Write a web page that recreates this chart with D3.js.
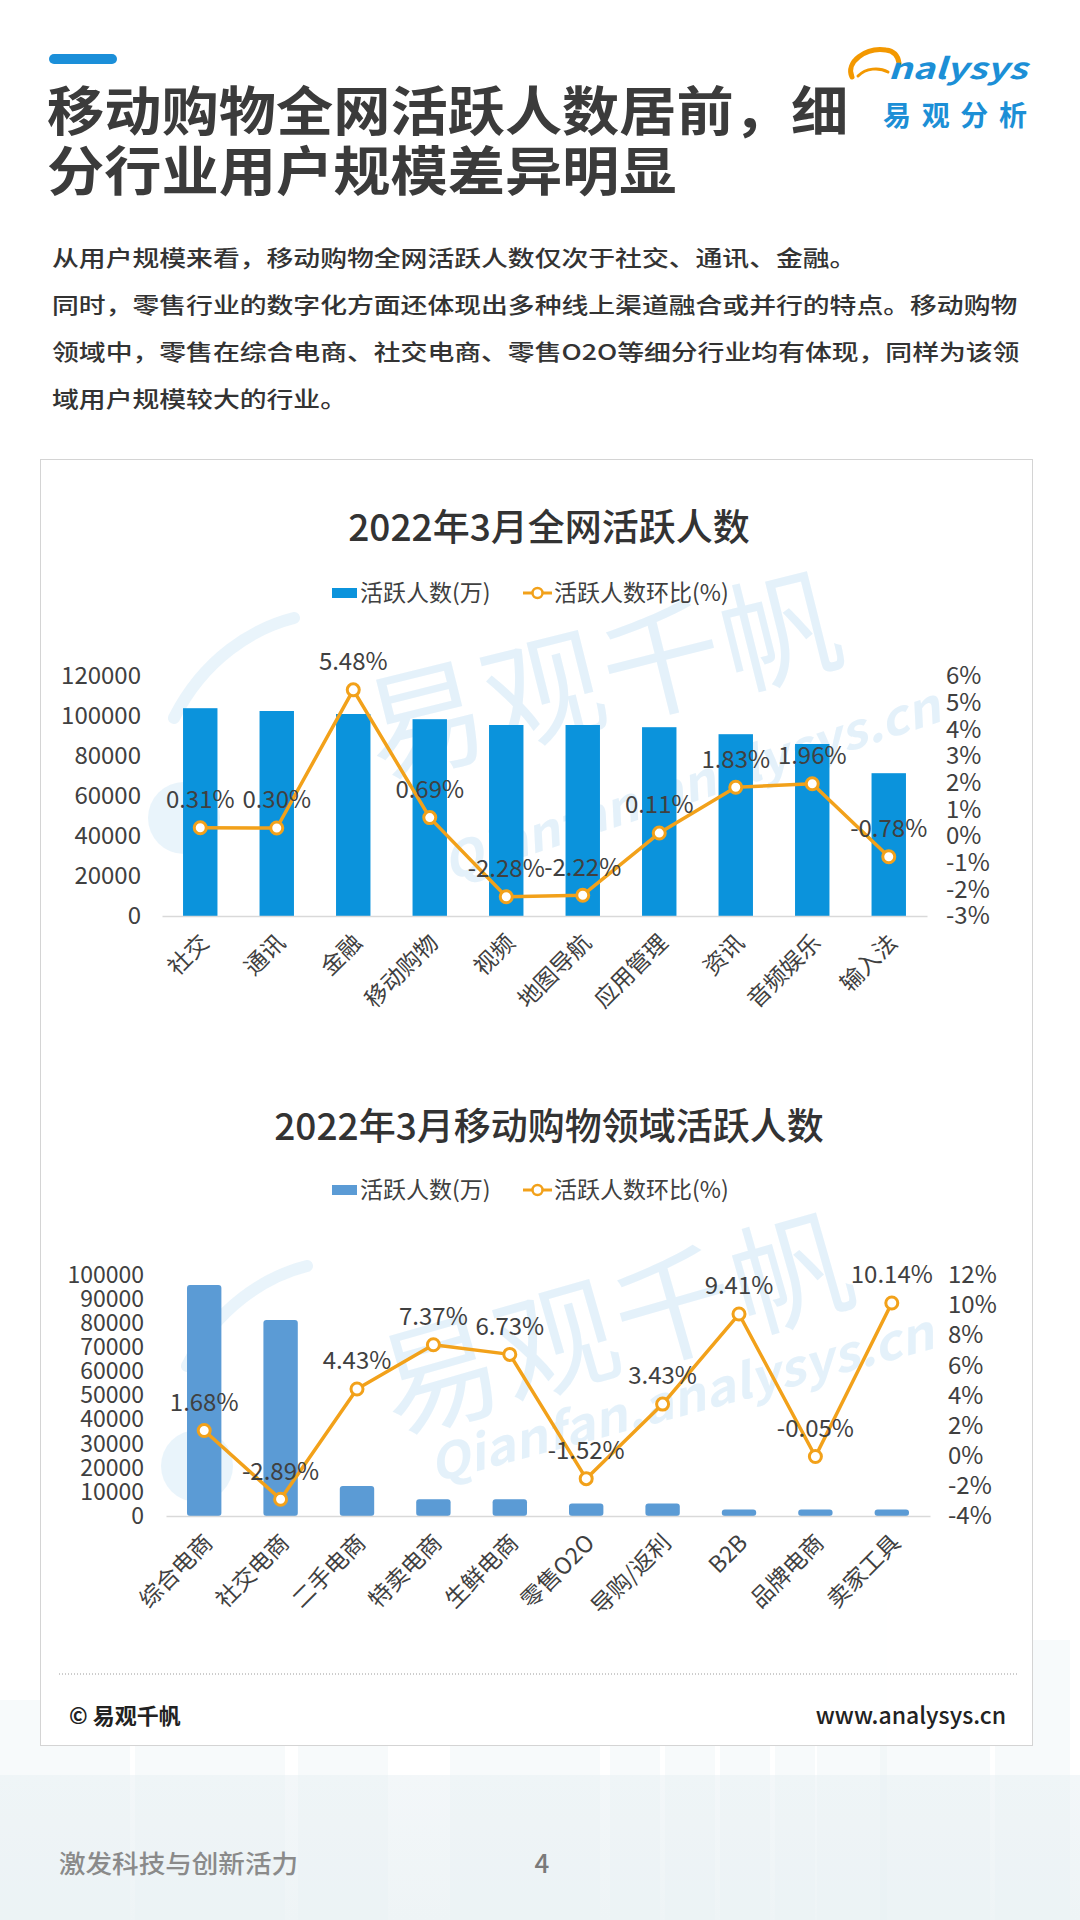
<!DOCTYPE html>
<html><head><meta charset="utf-8">
<script src="https://cdn.jsdelivr.net/npm/d3@7"></script>
<style>
html,body{margin:0;padding:0;background:#fff}
svg{display:block}
text{font-family:"Noto Sans CJK SC","Noto Sans",sans-serif}
</style>
</head><body>
<svg id="page" width="1080" height="1920"></svg>
<script>
// ---------- data ----------
const titleLines = ["移动购物全网活跃人数居前，细", "分行业用户规模差异明显"];
const paragraphLines = [
  "从用户规模来看，移动购物全网活跃人数仅次于社交、通讯、金融。",
  "同时，零售行业的数字化方面还体现出多种线上渠道融合或并行的特点。移动购物",
  "领域中，零售在综合电商、社交电商、零售O2O等细分行业均有体现，同样为该领",
  "域用户规模较大的行业。"
];
const legendLabels = ["活跃人数(万)", "活跃人数环比(%)"];

const chart1Title = "2022年3月全网活跃人数";
const chart1Categories = ["社交","通讯","金融","移动购物","视频","地图导航","应用管理","资讯","音频娱乐","输入法"];
const chart1Users = [103900, 102500, 101000, 98400, 95500, 95500, 94400, 90900, 86000, 71400];
const chart1Growth = [0.31, 0.30, 5.48, 0.69, -2.28, -2.22, 0.11, 1.83, 1.96, -0.78];
const chart1LeftTicks = [0, 20000, 40000, 60000, 80000, 100000, 120000];
const chart1RightTicks = [-3, -2, -1, 0, 1, 2, 3, 4, 5, 6];

const chart2Title = "2022年3月移动购物领域活跃人数";
const chart2Categories = ["综合电商","社交电商","二手电商","特卖电商","生鲜电商","零售O2O","导购/返利","B2B","品牌电商","卖家工具"];
const chart2Users = [95800, 81300, 12400, 6900, 6900, 5200, 5200, 2700, 2700, 2700];
const chart2Growth = [1.68, -2.89, 4.43, 7.37, 6.73, -1.52, 3.43, 9.41, -0.05, 10.14];
const chart2LeftTicks = [0, 10000, 20000, 30000, 40000, 50000, 60000, 70000, 80000, 90000, 100000];
const chart2RightTicks = [-4, -2, 0, 2, 4, 6, 8, 10, 12];

const footerLeft = "© 易观千帆";
const footerRight = "www.analysys.cn";
const bottomSlogan = "激发科技与创新活力";
const pageNumber = "4";
const watermarkCN = "易观千帆";
const watermarkEN = "Qianfan.analysys.cn";

// ---------- drawing ----------
const svg = d3.select("#page");
const TEXT = "#404040";
const ORANGE = "#F2A11A";
const BLUE_LOGO = "#1C8FD6";

// background city silhouettes (decorative, very faint)
const bg = svg.append("g");
const grad = svg.append("defs").append("linearGradient").attr("id","band").attr("x1",0).attr("y1",0).attr("x2",0).attr("y2",1);
grad.append("stop").attr("offset","0%").attr("stop-color","#F3F7F9");
grad.append("stop").attr("offset","100%").attr("stop-color","#EEF4F6");
bg.append("rect").attr("x",0).attr("y",1775).attr("width",1080).attr("height",145).attr("fill","url(#band)");
const buildings = [[0,130,1700],[135,150,1560],[298,90,1620],[450,150,1545],[610,50,1680],[665,50,1620],[720,50,1650],[775,40,1700],[817,70,1600],[880,110,1580],[995,30,1690],[1025,45,1640]];
bg.selectAll("rect.b").data(buildings).join("rect").attr("class","b")
  .attr("x",d=>d[0]).attr("y",d=>d[2]).attr("width",d=>d[1]).attr("height",d=>1920-d[2])
  .attr("fill","#E9F0F3").attr("opacity",0.35);

// header bar
svg.append("rect").attr("x",49).attr("y",54).attr("width",68).attr("height",10).attr("rx",5).attr("fill","#1B8FD9");

// title
titleLines.forEach((t,i)=>{
  svg.append("text").attr("transform",`translate(47,${131+i*60}) scale(1.08,1)`)
    .attr("font-size",53).attr("font-weight",700).attr("fill","#3B3B3B").text(t);
});

// logo
svg.append("path").attr("d","M852 77 C845 62 866 47 886 50 C894 51 898 56 899 63")
  .attr("fill","none").attr("stroke","#F39800").attr("stroke-width",5).attr("stroke-linecap","round");
svg.append("path").attr("d","M858 76 C866 68 879 67 888 72")
  .attr("fill","none").attr("stroke","#F39800").attr("stroke-width",3).attr("stroke-linecap","round");
svg.append("text").attr("x",888).attr("y",79).attr("font-size",29).attr("font-weight",700)
  .attr("font-style","italic").attr("fill",BLUE_LOGO).attr("textLength",139).attr("lengthAdjust","spacingAndGlyphs").text("nalysys");
svg.append("text").attr("x",883).attr("y",126).attr("font-size",28).attr("font-weight",700)
  .attr("fill",BLUE_LOGO).attr("textLength",144).attr("lengthAdjust","spacing").text("易观分析");

// paragraph
paragraphLines.forEach((t,i)=>{
  svg.append("text").attr("transform",`translate(52,${266+i*47}) scale(1.22,1)`)
    .attr("font-size",22).attr("font-weight",500).attr("fill","#333").text(t);
});

// card
svg.append("rect").attr("x",40.5).attr("y",459.5).attr("width",992).attr("height",1286)
  .attr("fill","#fff").attr("fill-opacity",0.9).attr("stroke","#D4D4D4").attr("stroke-width",1);

function watermark(g, cn, en){
  const c = "#D3E9F8";
  g.append("text").attr("transform",`translate(${cn.x},${cn.y}) rotate(${cn.a})`)
    .attr("text-anchor","middle").attr("dy","0.35em").attr("font-size",120).attr("font-weight",400)
    .attr("fill",c).attr("opacity",0.6).attr("letter-spacing",2).text(watermarkCN);
  g.append("text").attr("transform",`translate(${en.x},${en.y}) rotate(${en.a})`)
    .attr("text-anchor","middle").attr("dy","0.35em").attr("font-size",48).attr("font-weight",700)
    .attr("font-style","italic").attr("fill",c).attr("opacity",0.6)
    .attr("textLength",520).attr("lengthAdjust","spacingAndGlyphs").text(watermarkEN);
  g.append("circle").attr("cx",cn.x-420).attr("cy",cn.y+140).attr("r",36).attr("fill",c).attr("opacity",0.5);
  g.append("path").attr("d",`M${cn.x-430} ${cn.y+40} C${cn.x-400} ${cn.y-20} ${cn.x-350} ${cn.y-50} ${cn.x-310} ${cn.y-60}`)
    .attr("fill","none").attr("stroke",c).attr("stroke-width",12).attr("stroke-linecap","round").attr("opacity",0.5);
}

function drawChart(cfg){
  const g = svg.append("g");
  watermark(g, cfg.wmCN, cfg.wmEN);

  // title
  g.append("text").attr("x",549).attr("y",cfg.titleY).attr("dy","0.35em").attr("text-anchor","middle")
    .attr("font-size",37).attr("font-weight",500).attr("fill","#333").text(cfg.title);

  // legend
  const ly = cfg.legendY;
  g.append("rect").attr("x",332).attr("y",ly-5).attr("width",25).attr("height",10).attr("fill",cfg.barColor);
  g.append("text").attr("x",360).attr("y",ly).attr("dy","0.35em").attr("font-size",23).attr("fill",TEXT).text(legendLabels[0]);
  g.append("line").attr("x1",523).attr("x2",552).attr("y1",ly).attr("y2",ly).attr("stroke",ORANGE).attr("stroke-width",3);
  g.append("circle").attr("cx",537.5).attr("cy",ly).attr("r",5).attr("fill","#fff").attr("stroke",ORANGE).attr("stroke-width",2.5);
  g.append("text").attr("x",554).attr("y",ly).attr("dy","0.35em").attr("font-size",23).attr("fill",TEXT).text(legendLabels[1]);

  const x = d3.scaleBand().domain(cfg.cats).range([cfg.x0,cfg.x1]).paddingInner(0.55).paddingOuter(0.275);
  const y = d3.scaleLinear().domain([0,cfg.leftMax]).range([cfg.yBottom,cfg.yTop]);
  const y2 = d3.scaleLinear().domain(cfg.rightDomain).range([cfg.yBottom,cfg.yTop]);

  // left axis
  const la = g.append("g").attr("transform",`translate(${cfg.leftX},0)`)
    .call(d3.axisLeft(y).tickValues(cfg.leftTicks).tickSize(0).tickPadding(0).tickFormat(d3.format("d")));
  la.select(".domain").remove();
  la.selectAll("text").attr("font-size",cfg.leftFont).attr("fill",TEXT).attr("font-family",'"Noto Sans CJK SC",sans-serif');

  // right axis
  const ra = g.append("g").attr("transform",`translate(${cfg.rightX},0)`)
    .call(d3.axisRight(y2).tickValues(cfg.rightTicks).tickSize(0).tickPadding(0).tickFormat(d=>d+"%"));
  ra.select(".domain").remove();
  ra.selectAll("text").attr("font-size",24).attr("fill",TEXT).attr("font-family",'"Noto Sans CJK SC",sans-serif');

  // bars
  g.append("g").selectAll("rect").data(cfg.cats).join("rect")
    .attr("x",d=>x(d)).attr("width",x.bandwidth())
    .attr("y",(d,i)=>y(cfg.users[i])).attr("height",(d,i)=>cfg.yBottom-y(cfg.users[i]))
    .attr("rx",cfg.rx).attr("fill",cfg.barColor);

  // baseline / bottom axis
  const ba = g.append("g").attr("transform",`translate(0,${cfg.yBottom})`)
    .call(d3.axisBottom(x).tickSize(0).tickPadding(0));
  ba.select(".domain").attr("stroke","#D9D9D9").attr("stroke-width",1.5);
  ba.selectAll("text").attr("font-size",23).attr("fill",TEXT).attr("font-family",'"Noto Sans CJK SC",sans-serif')
    .attr("text-anchor","end").attr("x",-13).attr("y",27).attr("dy",0).attr("transform","rotate(-45)");

  // line
  const cx = d=>x(d)+x.bandwidth()/2;
  const pts = cfg.cats.map((c,i)=>[cx(c), y2(cfg.growth[i])]);
  g.append("path").attr("d",d3.line()(pts)).attr("fill","none").attr("stroke",ORANGE).attr("stroke-width",3.5).attr("stroke-linejoin","round");
  g.append("g").selectAll("circle").data(pts).join("circle")
    .attr("cx",d=>d[0]).attr("cy",d=>d[1]).attr("r",6).attr("fill","#fff").attr("stroke",ORANGE).attr("stroke-width",3);
  g.append("g").selectAll("text").data(cfg.growth).join("text")
    .attr("x",(d,i)=>pts[i][0]).attr("y",(d,i)=>pts[i][1]-28).attr("dy","0.35em").attr("text-anchor","middle")
    .attr("font-size",24).attr("fill",TEXT).text(d=>d.toFixed(2)+"%");
}

drawChart({
  title: chart1Title, titleY: 528, legendY: 593, cats: chart1Categories, users: chart1Users, growth: chart1Growth,
  x0: 162, x1: 927, yTop: 676, yBottom: 916, leftMax: 120000, rightDomain: [-3,6],
  leftTicks: chart1LeftTicks, rightTicks: chart1RightTicks, leftX: 141, rightX: 946, leftFont: 24,
  barColor: "#0B93DC", rx: 0,
  wmCN: {x:604, y:678, a:-14}, wmEN: {x:691, y:785, a:-18}
});
drawChart({
  title: chart2Title, titleY: 1127, legendY: 1190, cats: chart2Categories, users: chart2Users, growth: chart2Growth,
  x0: 166, x1: 930, yTop: 1275, yBottom: 1516, leftMax: 100000, rightDomain: [-4,12],
  leftTicks: chart2LeftTicks, rightTicks: chart2RightTicks, leftX: 144, rightX: 948, leftFont: 23,
  barColor: "#5B9BD5", rx: 3,
  wmCN: {x:617, y:1326, a:-16}, wmEN: {x:681, y:1399, a:-15}
});

// card footer
svg.append("line").attr("x1",59).attr("x2",1018).attr("y1",1674).attr("y2",1674)
  .attr("stroke","#9A9A9A").attr("stroke-width",1).attr("stroke-dasharray","1,2");
svg.append("text").attr("x",69).attr("y",1716).attr("dy","0.35em").attr("font-size",22).attr("font-weight",700)
  .attr("fill","#222").text(footerLeft);
svg.append("text").attr("x",1006).attr("y",1716).attr("dy","0.35em").attr("text-anchor","end").attr("font-size",23)
  .attr("font-weight",500).attr("fill","#222").text(footerRight);

// page bottom
svg.append("text").attr("x",59).attr("y",1864).attr("dy","0.35em").attr("font-size",25).attr("font-weight",500)
  .attr("fill","#8A8A8A").attr("textLength",239).attr("lengthAdjust","spacingAndGlyphs").text(bottomSlogan);
svg.append("text").attr("x",542).attr("y",1864).attr("dy","0.35em").attr("text-anchor","middle").attr("font-size",26)
  .attr("font-weight",500).attr("fill","#7A7A7A").text(pageNumber);
</script>
</body></html>
